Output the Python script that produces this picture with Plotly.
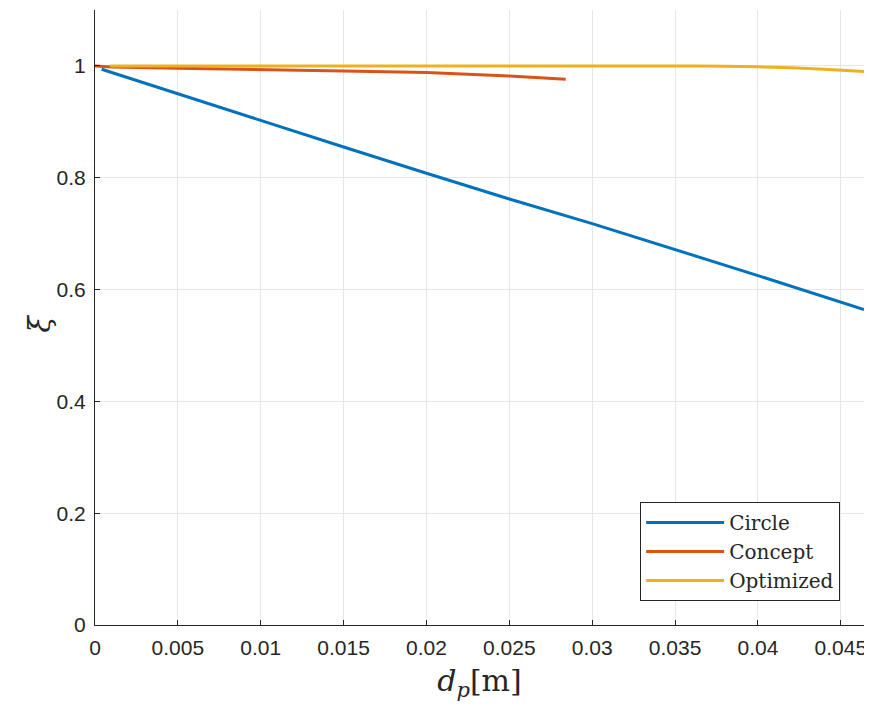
import plotly.graph_objects as go

circle_x = [0.0004, 0.005, 0.01, 0.015, 0.02, 0.025, 0.03, 0.035, 0.04, 0.0464]
circle_y = [0.994, 0.950, 0.902, 0.855, 0.808, 0.762, 0.718, 0.672, 0.625, 0.564]

concept_x = [0.0, 0.001, 0.005, 0.01, 0.015, 0.02, 0.025, 0.0284]
concept_y = [1.000, 0.998, 0.996, 0.994, 0.991, 0.988, 0.982, 0.976]

optim_x = [0.0009, 0.005, 0.01, 0.015, 0.02, 0.025, 0.03, 0.035, 0.038, 0.04, 0.042, 0.044, 0.0464]
optim_y = [1.000, 1.000, 1.000, 1.000, 1.000, 1.000, 1.000, 1.000, 0.9995, 0.9985, 0.9965, 0.994, 0.990]

x_ticks = [0, 0.005, 0.01, 0.015, 0.02, 0.025, 0.03, 0.035, 0.04, 0.045]
x_ticklabels = ["0", "0.005", "0.01", "0.015", "0.02", "0.025", "0.03", "0.035", "0.04", "0.045"]
y_ticks = [0, 0.2, 0.4, 0.6, 0.8, 1.0]
y_ticklabels = ["0", "0.2", "0.4", "0.6", "0.8", "1"]

fig = go.Figure()
fig.add_trace(go.Scatter(x=circle_x, y=circle_y, mode="lines", name="Circle",
                         line=dict(color="#0072BD", width=3)))
fig.add_trace(go.Scatter(x=concept_x, y=concept_y, mode="lines", name="Concept",
                         line=dict(color="#D95319", width=3)))
fig.add_trace(go.Scatter(x=optim_x, y=optim_y, mode="lines", name="Optimized",
                         line=dict(color="#EDB120", width=3, shape="spline", smoothing=0.8)))

axis_common = dict(
    showline=True, linecolor="#262626", linewidth=1, mirror=False,
    ticks="inside", ticklen=5, tickcolor="#262626", tickwidth=1,
    showgrid=True, gridcolor="#e6e6e6", gridwidth=1, zeroline=False,
    automargin=False,
    tickfont=dict(family="Liberation Sans, Arial, sans-serif", size=21, color="#262626"),
)

serif = "DejaVu Serif, Liberation Serif, serif"

fig.update_layout(
    width=864, height=694,
    margin=dict(l=87, r=8, t=2, b=77),
    paper_bgcolor="white", plot_bgcolor="white",
    showlegend=True,
    legend=dict(
        x=0.969, y=0.039, xanchor="right", yanchor="bottom",
        bgcolor="white", bordercolor="#262626", borderwidth=1,
        font=dict(family=serif, size=20, color="#262626"),
        tracegroupgap=0, itemwidth=78,
    ),
    xaxis=dict(range=[0, 0.0464], tickvals=x_ticks, ticktext=x_ticklabels,
               ticklabelstandoff=4, ticklabeloverflow="allow",
               title=dict(text="<i>d</i><sub><i>p</i></sub>[m]", standoff=14,
                          font=dict(family=serif, size=30, color="#262626")),
               **axis_common),
    yaxis=dict(range=[0, 1.1], tickvals=y_ticks, ticktext=y_ticklabels,
               ticklabelstandoff=4,
               **axis_common),
    annotations=[dict(
        text="<i>ξ</i>", xref="paper", yref="paper", x=-0.0715, y=0.49,
        xanchor="center", yanchor="middle", textangle=-90, showarrow=False,
        font=dict(family=serif, size=30, color="#262626"),
    )],
)

fig.write_html("out.html")
